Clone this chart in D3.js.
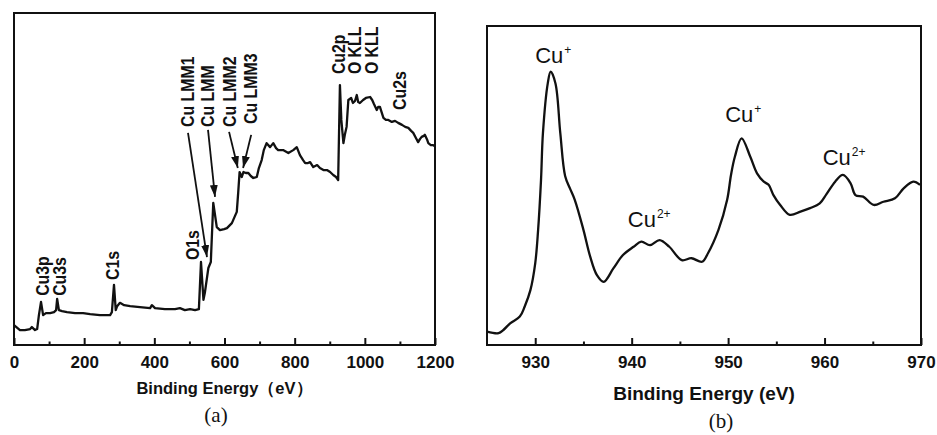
<!DOCTYPE html>
<html lang="en">
<head>
<meta charset="UTF-8">
<title>XPS spectra</title>
<script src="https://d3js.org/d3.v7.min.js"></script>
<style>
  body { margin: 0; background: #fff; }
  svg text { fill: #111; }
</style>
</head>
<body>
<svg width="937" height="435"></svg>
<script>
// (a) survey spectrum, binding energy (eV) vs intensity (a.u.)
const surveyEnergy = [0, 17, 31, 46, 51, 60, 66, 71, 77, 83, 91, 103, 114, 120, 123, 128, 137, 151, 174, 197, 217, 245, 274, 279, 285, 290, 294, 302, 314, 331, 359, 388, 393, 402, 430, 459, 473, 487, 502, 516, 527, 533, 540, 544, 554, 561, 568, 578, 587, 599, 607, 621, 630, 635, 639, 643, 649, 654, 661, 668, 675, 682, 692, 698, 706, 712, 720, 730, 739, 747, 753, 767, 782, 796, 806, 815, 824, 830, 838, 844, 853, 864, 872, 882, 892, 901, 910, 918, 924, 929, 933, 939, 943, 948, 953, 961, 966, 972, 977, 981, 986, 995, 1003, 1015, 1021, 1026, 1034, 1038, 1043, 1053, 1060, 1067, 1077, 1086, 1095, 1106, 1115, 1124, 1132, 1138, 1146, 1152, 1157, 1162, 1168, 1171, 1177, 1181, 1188, 1195, 1200];
const surveyCounts = [6.0, 4.5, 4.5, 4.8, 5.4, 4.5, 4.8, 9.0, 13.0, 9.0, 9.6, 9.6, 9.9, 10.5, 13.9, 10.5, 10.2, 9.9, 9.6, 9.6, 9.3, 9.0, 9.0, 9.9, 18.1, 10.5, 11.7, 12.7, 12.0, 11.7, 11.4, 11.1, 12.0, 11.1, 10.8, 10.8, 11.1, 10.5, 10.8, 10.5, 10.8, 25.0, 13.6, 15.7, 23.2, 25.0, 42.8, 35.5, 34.6, 34.9, 35.2, 36.7, 38.9, 40.1, 45.8, 52.1, 50.6, 52.1, 51.8, 51.8, 50.9, 50.3, 50.6, 53.3, 55.7, 58.7, 60.8, 59.6, 60.8, 59.3, 58.7, 58.7, 57.8, 58.7, 59.6, 57.2, 55.7, 54.8, 54.8, 55.1, 53.6, 54.2, 53.3, 52.7, 52.7, 52.1, 51.2, 50.6, 49.7, 78.3, 67.8, 60.8, 63.3, 65.7, 73.8, 74.4, 72.9, 73.5, 75.3, 73.2, 72.9, 73.8, 74.4, 74.7, 73.8, 72.6, 70.8, 71.7, 71.7, 68.4, 67.8, 67.8, 67.2, 67.5, 66.9, 66.3, 65.7, 65.4, 64.5, 63.9, 62.3, 61.1, 62.0, 62.7, 63.0, 63.3, 62.0, 60.8, 60.2, 60.2, 59.9];

// peak labels of (a): text, energy of label centre, intensity where the text starts
const surveyLabels = ["Cu3p", "Cu3s", "C1s", "O1s", "Cu LMM1", "Cu LMM", "Cu LMM2", "Cu LMM3", "Cu2p", "O KLL", "O KLL", "Cu2s"];
const surveyLabelE = [80, 131, 282, 510, 496, 553, 613, 673, 924, 972, 1020, 1100];
const surveyLabelI = [14.8, 14.8, 19.6, 25.6, 65.7, 65.7, 65.7, 66.6, 81.6, 81.6, 81.6, 70.8];

// arrows of (a): start / end in energy and intensity
const arrowE0 = [496, 553, 613, 676];
const arrowI0 = [63.9, 64.8, 64.2, 63.3];
const arrowE1 = [550, 573, 638, 653];
const arrowI1 = [26.5, 44.6, 53.3, 53.3];

const surveyTicks = [0, 200, 400, 600, 800, 1000, 1200];
const surveyMinor = [100, 300, 500, 700, 900, 1100];

// (b) Cu 2p spectrum
const cuEnergy = [925.0, 926.2, 926.7, 927.4, 928.4, 928.9, 929.5, 930.0, 930.3, 930.6, 930.8, 931.3, 931.6, 932.1, 932.6, 933.1, 933.6, 934.1, 935.0, 935.7, 936.4, 937.1, 938.1, 939.1, 940.2, 941.0, 941.9, 942.9, 943.9, 945.2, 946.2, 947.3, 947.9, 949.0, 949.9, 950.3, 950.7, 951.4, 952.3, 953.0, 953.7, 954.2, 954.7, 955.4, 956.4, 957.5, 958.5, 959.5, 960.2, 961.1, 961.9, 962.7, 963.2, 964.0, 965.1, 966.1, 967.3, 968.2, 969.2, 969.9];
const cuCounts = [4.2, 3.7, 4.7, 6.8, 8.9, 12.0, 17.2, 25.6, 36.1, 51.7, 66.4, 82.0, 85.7, 82.0, 66.4, 53.0, 49.1, 45.5, 36.1, 27.7, 21.9, 19.8, 24.0, 28.2, 30.8, 32.4, 31.3, 32.9, 30.8, 26.6, 27.2, 26.1, 28.7, 36.1, 45.5, 53.3, 59.0, 64.8, 59.0, 53.8, 51.2, 50.2, 47.0, 43.9, 40.8, 41.8, 42.9, 44.4, 47.3, 51.2, 53.3, 50.7, 47.0, 46.5, 43.9, 44.9, 46.0, 49.1, 51.2, 50.2];

const cuLabelBase = ["Cu", "Cu", "Cu", "Cu"];
const cuLabelSup = ["+", "2+", "+", "2+"];
const cuLabelE = [930.0, 939.6, 949.7, 959.8];
const cuLabelI = [88.4, 37.0, 69.9, 56.4];

const cuTicks = [930, 940, 950, 960, 970];
const cuMinor = [935, 945, 955, 965];

const svg = d3.select("svg");
const sans = "'Liberation Sans', Arial, Helvetica, sans-serif";
const serif = "'Liberation Serif', 'Times New Roman', serif";

function panel(o) {
  const x = d3.scaleLinear().domain(o.xDomain).range([o.left, o.right]);
  const y = d3.scaleLinear().domain([0, 100]).range([o.bottom, o.top]);
  const g = svg.append("g");

  // major ticks + labels, pointing inward
  g.append("g")
    .attr("transform", "translate(0," + o.bottom + ")")
    .call(d3.axisBottom(x).tickValues(o.ticks).tickFormat(d3.format("d"))
      .tickSizeInner(-7).tickSizeOuter(0).tickPadding(11))
    .call(a => a.select(".domain").remove())
    .call(a => a.selectAll("line").attr("stroke", "#111").attr("stroke-width", 2))
    .call(a => a.selectAll("text").attr("font-family", sans).attr("font-weight", "bold")
      .attr("font-size", "17px").attr("fill", "#111"));

  // minor ticks
  g.append("g")
    .attr("transform", "translate(0," + o.bottom + ")")
    .call(d3.axisBottom(x).tickValues(o.minor).tickSizeInner(-3.5).tickSizeOuter(0).tickFormat(""))
    .call(a => a.select(".domain").remove())
    .call(a => a.selectAll("line").attr("stroke", "#111").attr("stroke-width", 2));

  // frame
  g.append("rect")
    .attr("x", o.left).attr("y", o.top)
    .attr("width", o.right - o.left).attr("height", o.bottom - o.top)
    .attr("fill", "none").attr("stroke", "#111").attr("stroke-width", 2);

  // spectrum
  const pts = o.energy.map((e, i) => [e, o.counts[i]]);
  g.append("path")
    .datum(pts)
    .attr("fill", "none")
    .attr("stroke", "#111")
    .attr("stroke-width", 2.3)
    .attr("stroke-linejoin", "round")
    .attr("d", d3.line().x(d => x(d[0])).y(d => y(d[1])).curve(o.curve));

  // axis title and panel tag
  g.append("text")
    .attr("x", (o.left + o.right) / 2).attr("y", o.titleY)
    .attr("text-anchor", "middle")
    .attr("font-family", sans).attr("font-weight", "bold").attr("font-size", o.titleSize)
    .text(o.title);
  g.append("text")
    .attr("x", o.tagX).attr("y", o.tagY)
    .attr("text-anchor", "middle")
    .attr("font-family", serif).attr("font-size", "21px")
    .text(o.tag);

  return { g, x, y };
}

// (a)
const a = panel({
  xDomain: [0, 1200], left: 14, right: 435, top: 13, bottom: 345,
  ticks: surveyTicks, minor: surveyMinor,
  energy: surveyEnergy, counts: surveyCounts, curve: d3.curveLinear,
  title: "Binding Energy\uFF08eV\uFF09", titleSize: "16.5px", titleY: 394,
  tag: "(a)", tagX: 216, tagY: 422
});

svg.append("defs").append("marker")
  .attr("id", "head")
  .attr("viewBox", "0 0 12 8")
  .attr("refX", 12).attr("refY", 4)
  .attr("markerWidth", 12).attr("markerHeight", 8)
  .attr("markerUnits", "userSpaceOnUse")
  .attr("orient", "auto")
  .append("path")
  .attr("d", "M0,0 L12,4 L0,8 Z")
  .attr("fill", "#111");

a.g.selectAll(".arrow")
  .data(arrowE0)
  .enter()
  .append("line")
  .attr("class", "arrow")
  .attr("x1", (d, i) => a.x(arrowE0[i]))
  .attr("y1", (d, i) => a.y(arrowI0[i]))
  .attr("x2", (d, i) => a.x(arrowE1[i]))
  .attr("y2", (d, i) => a.y(arrowI1[i]))
  .attr("stroke", "#111")
  .attr("stroke-width", 1.8)
  .attr("marker-end", "url(#head)");

// rotated bold labels, slightly condensed like the original
a.g.selectAll(".peak")
  .data(surveyLabels)
  .enter()
  .append("text")
  .attr("class", "peak")
  .attr("transform", (d, i) => "translate(" + a.x(surveyLabelE[i]) + "," + a.y(surveyLabelI[i]) + ") rotate(-90) scale(0.88,1)")
  .attr("dy", "0.36em")
  .attr("font-family", sans).attr("font-weight", "bold").attr("font-size", "18px")
  .text(d => d);

// (b)
const b = panel({
  xDomain: [925, 970], left: 487, right: 921, top: 26, bottom: 345,
  ticks: cuTicks, minor: cuMinor,
  energy: cuEnergy, counts: cuCounts, curve: d3.curveCatmullRom,
  title: "Binding Energy (eV)", titleSize: "19px", titleY: 400,
  tag: "(b)", tagX: 721, tagY: 428
});

const cuText = b.g.selectAll(".state")
  .data(cuLabelBase)
  .enter()
  .append("text")
  .attr("class", "state")
  .attr("x", (d, i) => b.x(cuLabelE[i]))
  .attr("y", (d, i) => b.y(cuLabelI[i]))
  .attr("font-family", sans).attr("font-size", "22px");
cuText.append("tspan").text(d => d);
cuText.append("tspan")
  .attr("dy", -9).attr("dx", 1)
  .attr("font-size", "12px")
  .text((d, i) => cuLabelSup[i]);
</script>
</body>
</html>
